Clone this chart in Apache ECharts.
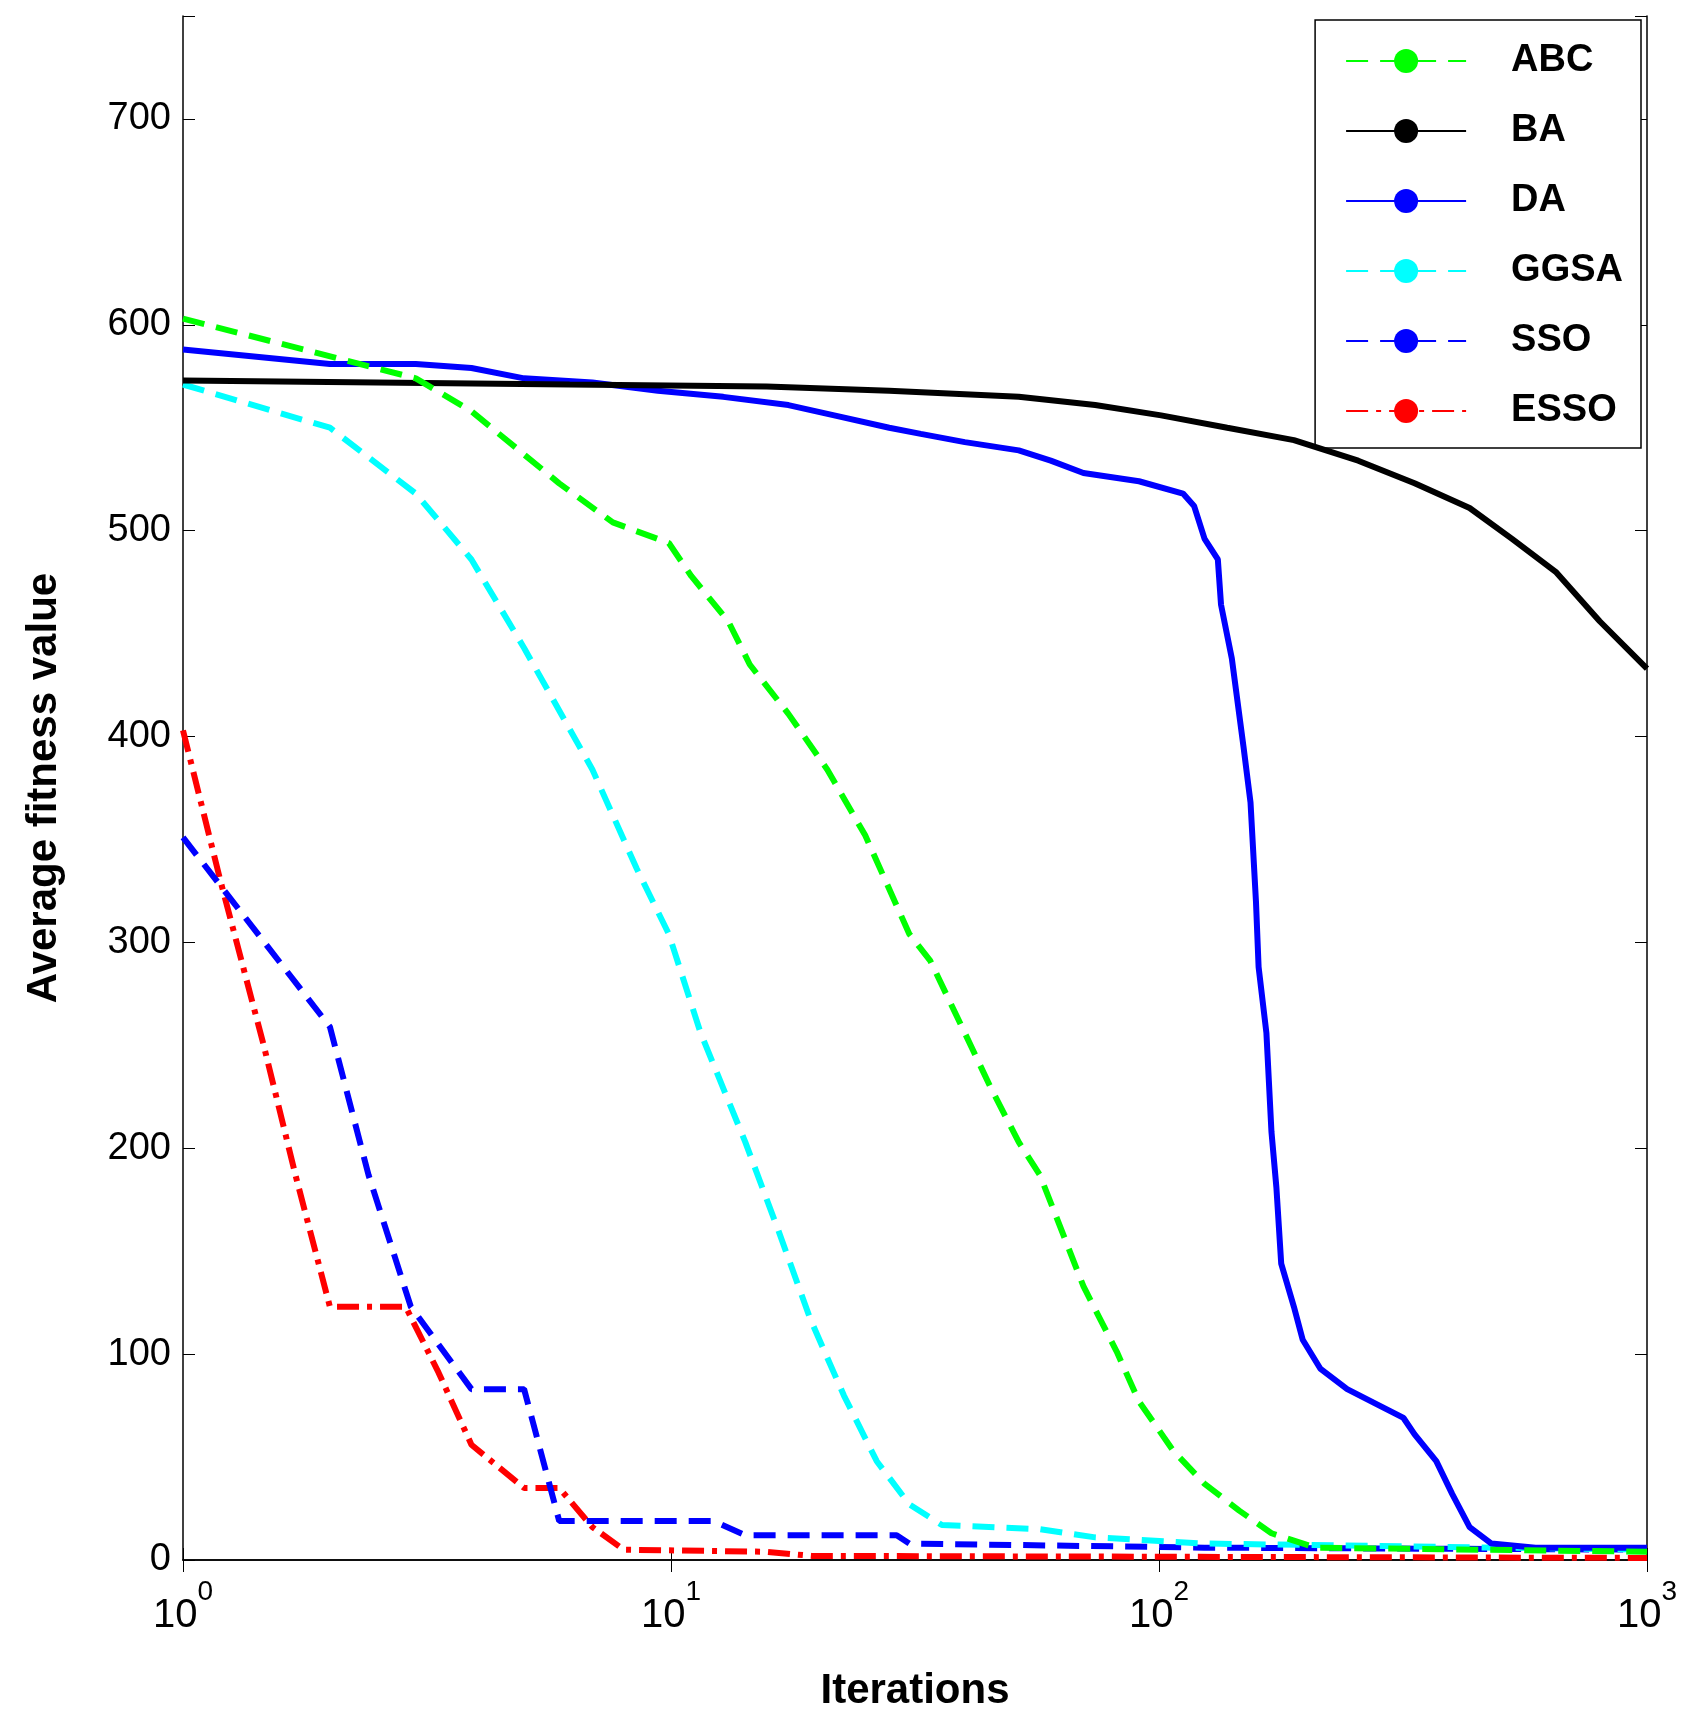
<!DOCTYPE html>
<html><head><meta charset="utf-8">
<script src="https://cdn.jsdelivr.net/npm/echarts@6/dist/echarts.min.js"></script>
<style>html,body{margin:0;background:#fff}#c{width:1703px;height:1721px}</style>
</head><body><div id="c"></div>
<script>
// values: [iteration, average fitness]
var abc = [[1,603],[3,574],[3.9,558],[5.9,523],[7.6,504],[9.9,494],[11,478],[13.1,456],[14.5,435],[17.4,411],[20.9,384],[25,352],[30.8,304],[34,291],[40,256],[45.3,229],[51.6,203],[57,187],[62,165],[70,133],[82,101],[91,77],[107,53],[124,37],[146,24],[170,13],[209,6],[1000,4]];
var ba = [[1,573],[6.2,571],[15.7,570],[28,568],[51.6,565],[74,561],[101,556],[138,550],[189,544],[256,534],[334,523],[433,511],[529,496],[650,480],[800,456],[1000,433]];
var da = [[1,588],[2,581],[3,581],[3.9,579],[5,574],[6.9,572],[9.4,568],[12.8,565],[17.4,561],[21.6,556],[28,550],[32.5,547],[40,543],[51.6,539],[60,534],[70,528],[91,524],[112,518],[118,512],[124,496],[132,486],[134,464],[141,438],[149,395],[154,368],[158,320],[160,288],[166,256],[170,208],[174,181],[178,144],[189,123],[197,107],[214,93],[243,83],[283,75],[317,69],[334,61],[370,48],[399,32],[433,16],[480,8],[591,6],[1000,6]];
var ggsa = [[1,571],[2,550],[3,518],[3.9,486],[5,443],[6.9,384],[8.5,336],[9.9,304],[11.5,256],[14.2,203],[16.6,160],[19.3,117],[22.6,80],[26.4,48],[30.8,27],[35.9,17],[57,15],[74,11],[124,8],[1000,5]];
var sso = [[1,351],[2,259],[2.4,187],[2.93,123],[3.9,83],[5,83],[5.9,19],[12.2,19],[14.2,12],[29,12],[30.8,8],[124,6],[1000,5]];
var esso = [[1,403],[1.19,331],[1.46,251],[1.7,187],[2,123],[2.86,123],[3.34,91],[3.9,56],[5,35],[5.9,35],[6.9,16],[8,5],[15.7,4],[19.4,2],[1000,1]];
var names = ['ABC','BA','DA','GGSA','SSO','ESSO'];
var colors = ['#00ff00','#000000','#0000ff','#00ffff','#0000ff','#ff0000'];
var types = [[22,12],'solid','solid',[22,12],[22,12],[22,8,5,8]];
var datas = [abc,ba,da,ggsa,sso,esso];

var font = 'Liberation Sans, Arial, sans-serif';
var series = names.map(function(n,i){
  return {name:n,type:'line',data:datas[i],symbol:'none',xAxisIndex:0,yAxisIndex:0,
    lineStyle:{color:colors[i],width:6,type:types[i]},itemStyle:{color:colors[i]},z:10-i};
});
var chart = echarts.init(document.getElementById('c'));
chart.setOption({
  backgroundColor:'#fff',
  animation:false,
  grid:{left:183,right:56,top:16,bottom:161},
  legend:{right:62,top:20,orient:'vertical',backgroundColor:'#fff',borderColor:'#000',borderWidth:1.5,
    padding:[22,18,18,30],itemGap:32,itemWidth:120,itemHeight:30,
    textStyle:{fontFamily:font,fontWeight:'bold',fontSize:38,color:'#000',padding:[0,0,0,40]},
    data:names},
  xAxis:[{type:'log',logBase:10,min:1,max:1000,
    name:'Iterations',nameLocation:'middle',nameGap:110,
    nameTextStyle:{fontFamily:font,fontWeight:'bold',fontSize:42,color:'#000'},
    axisLine:{lineStyle:{color:'#000',width:1.5}},
    axisTick:{inside:true,length:12,lineStyle:{color:'#000'}},
    splitLine:{show:false},minorTick:{show:false},
    axisLabel:{margin:18,color:'#000',fontFamily:font,
      formatter:function(v){return '{b|10}{s|'+Math.round(Math.log10(v))+'}';},
      rich:{b:{fontSize:40,fontFamily:font,color:'#000',padding:[18,0,0,0]},s:{fontSize:28,fontFamily:font,color:'#000',verticalAlign:'top'}}}},
    {type:'log',logBase:10,min:1,max:1000,position:'top',
    axisLine:{lineStyle:{color:'#000',width:1.5}},axisLabel:{show:false},
    axisTick:{inside:true,length:12,lineStyle:{color:'#000'}},splitLine:{show:false}}],
  yAxis:[{type:'value',min:0,max:750,interval:100,
    name:'Average fitness value',nameLocation:'middle',nameGap:118,
    nameTextStyle:{fontFamily:font,fontWeight:'bold',fontSize:42,color:'#000'},
    axisLine:{show:true,lineStyle:{color:'#000',width:1.5}},
    axisTick:{inside:true,length:12,lineStyle:{color:'#000'}},
    splitLine:{show:false},
    axisLabel:{margin:12,color:'#000',fontFamily:font,fontSize:38,
      formatter:function(v){return v>700?'':v;}}},
    {type:'value',min:0,max:750,interval:100,position:'right',
    axisLine:{show:true,lineStyle:{color:'#000',width:1.5}},axisLabel:{show:false},
    axisTick:{inside:true,length:12,lineStyle:{color:'#000'}},splitLine:{show:false}}],
  series:series
});
</script></body></html>
